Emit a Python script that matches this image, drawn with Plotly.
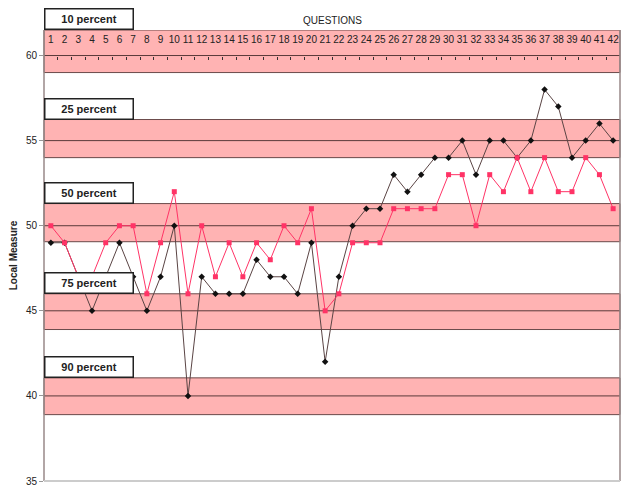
import plotly.graph_objects as go

questions = list(range(1, 43))
local_black = [49, 49, 47, 45, 47, 49, 47, 45, 47, 50, 40, 47, 46, 46, 46, 48, 47, 47, 46, 49, 42,
               47, 50, 51, 51, 53, 52, 53, 54, 54, 55, 53, 55, 55, 54, 55, 58, 57, 54, 55, 56, 55]
local_pink = [50, 49, 47, 47, 49, 50, 50, 46, 49, 52, 46, 50, 47, 49, 47, 49, 48, 50, 49, 51, 45,
              46, 49, 49, 49, 51, 51, 51, 51, 53, 53, 50, 53, 52, 54, 52, 54, 52, 52, 54, 53, 51]

band_labels = ["10 percent", "25 percent", "50 percent", "75 percent", "90 percent"]
band_low = [59.0, 54.0, 49.06, 43.9, 38.9]
band_high = [61.5, 56.24, 51.3, 46.0, 41.06]
band_mid = [60, 55, 50, 45, 40]

y_ticks = [35, 40, 45, 50, 55, 60]
y_min, y_max = 35, 61.5

fig = go.Figure()

shapes = []
annotations = []
for lab, lo, hi, mid in zip(band_labels, band_low, band_high, band_mid):
    shapes.append(dict(type="rect", xref="paper", yref="y", x0=0, x1=1, y0=lo, y1=hi,
                       fillcolor="#ffb3b3", line=dict(color="#6a4a4a", width=1), layer="below"))
    shapes.append(dict(type="line", xref="paper", yref="y", x0=0, x1=1, y0=mid, y1=mid,
                       line=dict(color="#5a3a3a", width=1), layer="below"))
    annotations.append(dict(text="<b>" + lab + "</b>", xref="paper", yref="y", x=0, y=hi,
                            xanchor="left", yanchor="bottom", showarrow=False,
                            bgcolor="white", bordercolor="#222222", borderwidth=1.5,
                            borderpad=1, width=85, height=17,
                            font=dict(family="Arial, Liberation Sans", size=11, color="#222222")))

shapes.append(dict(type="line", xref="paper", yref="paper", x0=0, x1=0, y0=0, y1=1,
                   line=dict(color="#998888", width=1.5)))
shapes.append(dict(type="line", xref="paper", yref="paper", x0=1, x1=1, y0=0, y1=1,
                   line=dict(color="#998888", width=1.5)))
shapes.append(dict(type="line", xref="paper", yref="paper", x0=0, x1=1, y0=0, y1=0,
                   line=dict(color="#cccccc", width=2)))

annotations.append(dict(text="QUESTIONS", xref="paper", yref="paper", x=0.5, y=1.0,
                        yshift=10, xanchor="center", yanchor="middle", showarrow=False,
                        font=dict(family="Liberation Sans Narrow, Arial", size=10, color="#222222")))

fig.add_trace(go.Scatter(x=questions, y=local_black, mode="lines+markers",
                         line=dict(color="#5a4444", width=1),
                         marker=dict(symbol="diamond", size=5, color="#111111"),
                         showlegend=False, cliponaxis=False))
fig.add_trace(go.Scatter(x=questions, y=local_pink, mode="lines+markers",
                         line=dict(color="#ff3366", width=1),
                         marker=dict(symbol="square", size=5, color="#ff3366"),
                         showlegend=False, cliponaxis=False))

# invisible trace on xaxis2 to activate the tick axis at the 60 line
fig.add_trace(go.Scatter(x=[questions[0], questions[-1]], y=[y_min, y_min], xaxis="x2",
                         mode="markers", marker=dict(opacity=0), showlegend=False,
                         hoverinfo="skip"))

frac60 = (60 - y_min) / (y_max - y_min)

fig.update_layout(
    width=626, height=490,
    margin=dict(l=36, r=14, t=22, b=17),
    plot_bgcolor="white", paper_bgcolor="white",
    shapes=shapes, annotations=annotations,
    xaxis=dict(range=[0.5, 42.5], side="top", tickvals=questions, automargin=False,
               ticktext=[str(q) for q in questions], ticklabelposition="inside",
               tickangle=0, ticklabelstandoff=3,
               ticks="", showgrid=False, zeroline=False, showline=False,
               tickfont=dict(family="Liberation Sans Narrow, Arial", size=10, color="#222222")),
    xaxis2=dict(range=[0.5, 42.5], overlaying="x", anchor="free", position=frac60,
                side="bottom", tickvals=[q + 0.5 for q in questions[:-1]], automargin=False,
                ticks="outside", ticklen=3, tickcolor="#333333", showticklabels=False,
                showgrid=False, zeroline=False, showline=False),
    yaxis=dict(range=[y_min, y_max], tickvals=y_ticks, ticks="outside", ticklen=4,
               automargin=False,
               tickcolor="#999999", showgrid=False, zeroline=False, showline=False,
               tickfont=dict(family="Liberation Sans Narrow, Arial", size=10, color="#222222"),
               title=dict(text="<b>Local Measure</b>", standoff=10,
                          font=dict(family="Arial", size=10, color="#222222"))),
)

fig.write_html("out.html")
